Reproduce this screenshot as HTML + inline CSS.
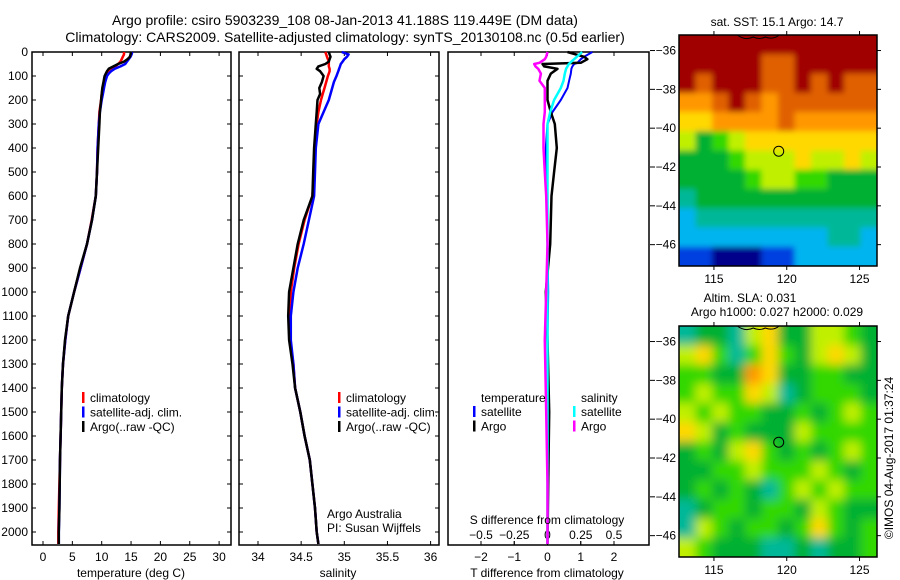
<!DOCTYPE html>
<html><head><meta charset="utf-8"><style>
html,body{margin:0;padding:0;background:#fff;}
svg{display:block;font-family:"Liberation Sans",sans-serif;}
</style></head><body>
<svg id="c" width="900" height="580" viewBox="0 0 900 580" xmlns="http://www.w3.org/2000/svg">
<defs>
<filter id="blurS" x="-5%" y="-5%" width="110%" height="110%"><feGaussianBlur stdDeviation="3"/></filter>
<filter id="blurL" x="-5%" y="-5%" width="110%" height="110%"><feGaussianBlur stdDeviation="5"/></filter>
<clipPath id="clipSST"><rect x="679" y="35" width="198" height="231"/></clipPath>
<clipPath id="clipSLA"><rect x="679" y="326" width="198" height="231"/></clipPath>
</defs>
<text x="345" y="25" font-size="14" text-anchor="middle">Argo profile: csiro 5903239_108 08-Jan-2013 41.188S 119.449E (DM data)</text>
<text x="345" y="42" font-size="14" text-anchor="middle">Climatology: CARS2009. Satellite-adjusted climatology: synTS_20130108.nc (0.5d earlier)</text>
<g id="layer"></g>
</svg>
<script>
// ---- data ----
const depths = [0,10,20,30,40,50,60,70,80,90,100,125,150,175,200,250,300,400,500,600,700,800,900,1000,1100,1200,1300,1400,1500,1600,1700,1800,1900,2000,2050];
const tempClim = [13.8,13.8,13.6,13.4,13.2,12.8,12.3,11.6,11.0,10.8,10.6,10.4,10.2,10.0,9.9,9.6,9.5,9.3,9.2,9.0,8.3,7.5,6.4,5.3,4.3,3.8,3.4,3.2,3.1,3.0,2.9,2.8,2.7,2.6,2.6];
const tempSat  = [15.2,15.1,14.9,14.6,14.3,14.0,13.2,12.2,11.6,11.2,10.9,10.6,10.4,10.2,10.0,9.7,9.5,9.3,9.2,9.0,8.35,7.5,6.4,5.3,4.3,3.8,3.4,3.2,3.1,3.0,2.9,2.85,2.8,2.7,2.7];
const tempArgo = [15.0,14.9,14.8,14.4,13.8,12.8,12.0,11.2,10.9,10.7,10.5,10.3,10.1,10.0,9.9,9.7,9.6,9.4,9.2,9.0,8.35,7.5,6.3,5.3,4.3,3.75,3.4,3.2,3.1,3.0,2.9,2.85,2.8,2.7,2.7];
const salClim = [34.78,34.79,34.80,34.81,34.82,34.82,34.82,34.83,34.83,34.82,34.81,34.79,34.77,34.75,34.73,34.70,34.68,34.66,34.65,34.63,34.54,34.47,34.42,34.38,34.37,34.37,34.41,34.43,34.49,34.54,34.60,34.63,34.66,34.68,34.70];
const salSat  = [34.97,35.05,35.03,35.00,34.98,34.96,34.95,34.94,34.93,34.92,34.91,34.88,34.86,34.84,34.82,34.76,34.70,34.67,34.66,34.65,34.59,34.53,34.46,34.41,34.38,34.38,34.41,34.43,34.49,34.54,34.60,34.63,34.66,34.68,34.70];
const salArgo = [34.82,34.83,34.84,34.83,34.82,34.78,34.70,34.68,34.72,34.74,34.76,34.74,34.71,34.72,34.69,34.68,34.67,34.65,34.64,34.63,34.53,34.46,34.41,34.36,34.35,34.36,34.40,34.43,34.49,34.54,34.60,34.63,34.66,34.68,34.70];
const diffDepths = [0,20,30,45,50,60,70,90,120,150,200,250,300,400,500,600,800,1000,1200,1500,1800,2050];
const dTSat  = [1.35,1.1,1.0,0.9,0.8,0.75,0.72,0.7,0.65,0.6,0.4,0.15,0.0,-0.05,-0.05,-0.03,0.0,0.02,0.0,0.0,0.0,0.0];
const dTArgo = [0.6,1.1,1.2,1.0,-0.15,-0.1,0.3,0.1,0.0,0.0,0.0,0.1,0.22,0.28,0.2,0.12,0.08,-0.05,0.0,0.05,0.02,0.0];
const dSSat  = [0.26,0.22,0.2,0.17,0.16,0.15,0.14,0.13,0.12,0.1,0.05,0.02,0.0,0.0,0.0,0.0,0.0,0.0,0.0,0.0,0.0,0.0];
const dSArgo = [0.0,-0.01,-0.02,-0.06,-0.1,-0.09,-0.07,-0.05,-0.06,-0.02,-0.02,-0.02,-0.03,-0.03,-0.02,-0.01,0.0,-0.01,-0.02,-0.01,0.0,0.0];
const depthTicks = [0,100,200,300,400,500,600,700,800,900,1000,1100,1200,1300,1400,1500,1600,1700,1800,1900,2000];
const tempTicks = [0,5,10,15,20,25,30];
const salTicks = [34,34.5,35,35.5,36];
const tdTicks = [-2,-1,0,1,2];
const sdTicks = [-0.5,-0.25,0,0.25,0.5];
const latTicks = [-36,-38,-40,-42,-44,-46];
const lonTicks = [115,120,125];
const sstGrid = [
[10,10,10,10,10,10,10,10,10,10,10,10],
[10,10,10,10,10,9,9,10,10,10,10,10],
[10,9,10,10,10,9,9,10,9,10,9,9],
[8,8,9,10,9,8,9,9,9,9,9,9],
[7,7,8,8,8,8,9,8,8,8,8,8],
[6,4,5,6,7,7,7,7,7,7,7,7],
[4,4,4,5,6,6,6,7,6,6,7,6],
[4,4,4,4,5,6,6,5,5,4,4,4],
[3,4,4,4,4,4,4,4,4,4,4,4],
[2,3,3,3,3,3,3,3,3,3,3,3],
[2,2,2,2,2,2,2,2,2,3,3,2],
[1,1,0,0,0,1,1,2,2,2,2,2]];
const slaGrid = [
[3,4,4,3,6,7,4,4,6,6,5,4],
[6,7,5,3,5,7,5,4,6,7,6,4],
[5,5,4,4,8,7,4,4,5,5,4,4],
[5,6,5,5,7,6,3,4,5,5,5,4],
[6,5,6,5,5,4,4,5,4,5,6,5],
[7,6,4,5,4,4,4,6,5,5,5,5],
[4,5,4,6,7,5,4,5,4,5,6,5],
[4,4,5,5,6,5,5,5,6,5,4,5],
[4,5,4,5,4,3,5,6,5,6,5,5],
[3,4,5,5,4,5,5,4,6,5,4,4],
[3,6,5,4,5,5,4,5,7,5,4,5],
[6,5,4,4,4,3,3,4,3,4,4,5]];
const palette = ['#00008b','#0040e0','#00b4f0','#00b898','#00b030','#30d800','#c0f000','#ffd800','#ff9800','#e06000','#a00000'];
const floatLon = 119.449, floatLat = -41.188;

// ---- helpers ----
const NS='http://www.w3.org/2000/svg';
const L=document.getElementById('layer');
function mk(tag,attrs,parent){const e=document.createElementNS(NS,tag);for(const k in attrs)e.setAttribute(k,attrs[k]);(parent||L).appendChild(e);return e;}
function txt(x,y,s,anchor,size,parent){const t=mk('text',{x:x,y:y,'font-size':size||12,'text-anchor':anchor||'start'},parent);t.textContent=s;return t;}

const top0=52, bot=545;
const yD = d => top0 + d*0.24;
const xT = t => 43 + t*5.87;
const xS = s => 258 + (s-34)*86.3;
const xTD = v => 547.5 + v*33.25;
const xSD = v => 547.5 + v*133;

function panel(name,x0,x1){
  const g=mk('g',{});
  
  
  const r=mk('rect',{x:x0,y:top0,width:x1-x0,height:bot-top0,fill:'none',stroke:'#000','stroke-width':1.5},g);
  
  
  return g;
}
function line(g,xs,ds,fx,color,name,w){
  const pts=xs.map((v,i)=>fx(v).toFixed(1)+','+yD(ds[i]).toFixed(1)).join(' ');
  const p=mk('polyline',{points:pts,fill:'none',stroke:color,'stroke-width':w||2.5,'stroke-linejoin':'round'},g);
  
  
}
function depthAxis(g,x0,x1,labels){
  depthTicks.forEach(d=>{
    const y=yD(d);
    mk('line',{x1:x0,y1:y,x2:x0+4,y2:y,stroke:'#000'},g);
    mk('line',{x1:x1-4,y1:y,x2:x1,y2:y,stroke:'#000'},g);
    if(labels){const t=txt(28,y+4,String(d),'end',12,g);
      
      }
  });
}
function xAxis(g,ticks,fx,labelY){
  ticks.forEach(v=>{
    const x=fx(v);
    mk('line',{x1:x,y1:bot,x2:x,y2:bot-4,stroke:'#000'},g);
    mk('line',{x1:x,y1:top0,x2:x,y2:top0+4,stroke:'#000'},g);
    const t=txt(x,labelY,String(v).replace('-','\u2212'),'middle',12,g);
    
    
  });
}
function legend(g,x,y,items){
  items.forEach((it,i)=>{
    const yy=y+i*14.5;
    mk('rect',{x:x,y:yy-10,width:2.5,height:11,fill:it[0]},g);
    const t=txt(x+8,yy,it[1],'start',12,g);
    
    
  });
}

// ---- panel 1: temperature ----
const p1=panel('temperature-panel',32,231);
depthAxis(p1,32,231,true);
xAxis(p1,tempTicks,xT,561);
line(p1,tempClim,depths,xT,'#ff0000','temp-climatology-line');
line(p1,tempSat,depths,xT,'#0000ff','temp-satellite-line');
line(p1,tempArgo,depths,xT,'#000000','temp-argo-line');
legend(p1,82,402,[['#ff0000','climatology'],['#0000ff','satellite-adj. clim.'],['#000000','Argo(..raw -QC)']]);
let t=txt(131,577,'temperature (deg C)','middle',12,p1);



// ---- panel 2: salinity ----
const p2=panel('salinity-panel',239,439);
depthAxis(p2,239,439,false);
xAxis(p2,salTicks,xS,561);
line(p2,salClim,depths,xS,'#ff0000','sal-climatology-line');
line(p2,salSat,depths,xS,'#0000ff','sal-satellite-line');
line(p2,salArgo,depths,xS,'#000000','sal-argo-line');
legend(p2,338,402,[['#ff0000','climatology'],['#0000ff','satellite-adj. clim.'],['#000000','Argo(..raw -QC)']]);
t=txt(327,518,'Argo Australia','start',12,p2);


t=txt(327,532,'PI: Susan Wijffels','start',12,p2);


t=txt(338,577,'salinity','middle',12,p2);



// ---- panel 3: differences ----
const p3=panel('difference-panel',448,649);
xAxis(p3,tdTicks,xTD,561);
sdTicks.forEach(v=>{const x=xSD(v);
  mk('line',{x1:x,y1:bot-4,x2:x,y2:bot,stroke:'#000'},p3);
  const tt=txt(x,539,String(v).replace('-','\u2212'),'middle',12,p3);
  
  });
line(p3,dTSat,diffDepths,xTD,'#0000ff','tdiff-satellite-line',2);
line(p3,dTArgo,diffDepths,xTD,'#000000','tdiff-argo-line',2.5);
line(p3,dSSat,diffDepths,xSD,'#00ffff','sdiff-satellite-line',2.5);
line(p3,dSArgo,diffDepths,xSD,'#ff00ff','sdiff-argo-line',2.5);
t=txt(481,402,'temperature','start',12,p3);


t=txt(581,402,'salinity','start',12,p3);


legend(p3,473,416,[['#0000ff','satellite'],['#000000','Argo']]);
legend(p3,573,416,[['#00ffff','satellite'],['#ff00ff','Argo']]);
t=txt(547,524,'S difference from climatology','middle',12,p3);


t=txt(547,577,'T difference from climatology','middle',12,p3);



// ---- maps ----
function map(name,y0,y1,grid,clipId,filterId,title1,title2){
  const x0=679,x1=877;
  const g=mk('g',{});
  
  
  const lonMin=112.6,lonMax=126.2,latTop=-35.2,latBot=-47.1;
  const xL=lon=>x0+(lon-lonMin)/(lonMax-lonMin)*(x1-x0);
  const yL=lat=>y0+(latTop-lat)/(latTop-latBot)*(y1-y0);
  const rows=grid.length,cols=grid[0].length;
  const cw=(x1-x0)/cols,ch=(y1-y0)/rows;
  const clipG=mk('g',{'clip-path':'url(#'+clipId+')'},g);
  const cells=mk('g',{filter:'url(#'+filterId+')'},clipG);
  
  
  grid.forEach((row,r)=>row.forEach((v,c)=>{
    // extend edge cells outward so blur doesn't fade borders
    const ex0=c===0?-10:0, ex1=c===cols-1?10:0, ey0=r===0?-10:0, ey1=r===rows-1?10:0;
    const cell=mk('rect',{x:(x0+c*cw+ex0).toFixed(2),y:(y0+r*ch+ey0).toFixed(2),width:(cw+0.6-ex0+ex1).toFixed(2),height:(ch+0.6-ey0+ey1).toFixed(2),fill:palette[v]},cells);
    
    
  }));
  mk('path',{d:`M${xL(116.6)},${y0} q8,6 16,2 q6,3 12,0 q8,3 14,-2`,fill:'none',stroke:'#000','stroke-width':1},g);
  mk('rect',{x:x0,y:y0,width:x1-x0,height:y1-y0,fill:'none',stroke:'#000','stroke-width':1.5},g);
  latTicks.forEach(lat=>{const y=yL(lat);
    mk('line',{x1:650,y1:y,x2:655,y2:y,stroke:'#000'},g);
    mk('line',{x1:x1,y1:y,x2:x1+4,y2:y,stroke:'#000'},g);
    const tt=txt(676,y+4,String(lat).replace('-','\u2212'),'end',12,g);
    
    });
  lonTicks.forEach(lon=>{const x=xL(lon);
    mk('line',{x1:x,y1:y0-4,x2:x,y2:y0,stroke:'#000'},g);
    mk('line',{x1:x,y1:y1,x2:x,y2:y1+4,stroke:'#000'},g);
    const tt=txt(x,y1+17,String(lon),'middle',12,g);
    
    });
  const c=mk('circle',{cx:xL(floatLon),cy:yL(floatLat),r:5,fill:'none',stroke:'#000','stroke-width':1},g);
  
  
  if(title2){
    let a=txt(750,y0-24,title1,'middle',12,g);
    
    a=txt(777,y0-10,title2,'middle',12,g);
    
  } else {
    const a=txt(777,y0-9,title1,'middle',12,g);
    
  }
}
map('sst-map',35,266,sstGrid,'clipSST','blurS','sat. SST: 15.1 Argo: 14.7');
map('sla-map',326,557,slaGrid,'clipSLA','blurL','Altim. SLA: 0.031','Argo h1000: 0.027 h2000: 0.029');
t=txt(0,0,'\u00A9IMOS 04-Aug-2017 01:37:24','middle',12);
t.setAttribute('transform','translate(893,458) rotate(-90)');


</script>
</body></html>
